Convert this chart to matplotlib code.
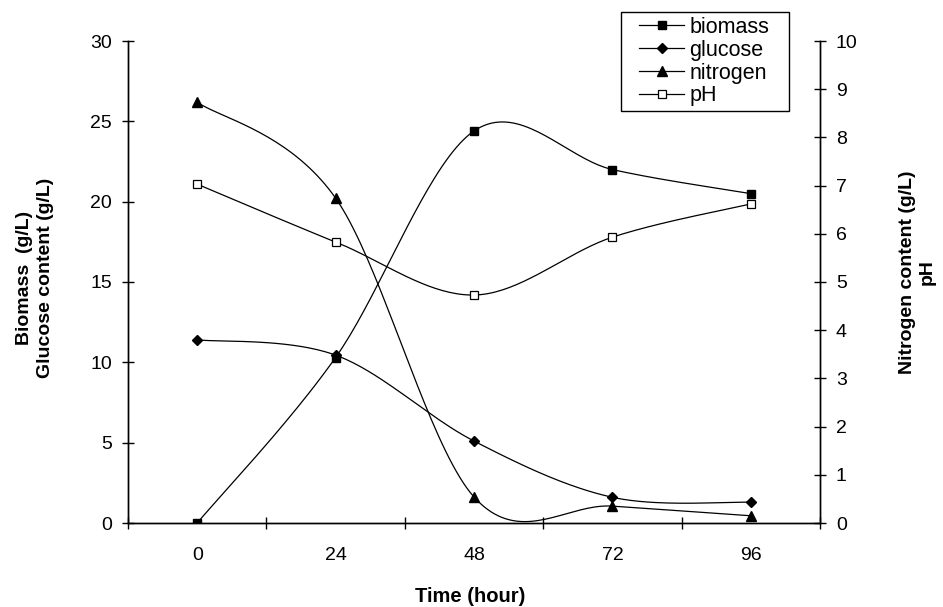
import numpy as np
import matplotlib.pyplot as plt
from matplotlib.lines import Line2D
from matplotlib.patches import Rectangle

plt.rcParams['font.family'] = ['Liberation Sans', 'DejaVu Sans']

hours = [0, 24, 48, 72, 96]
biomass = [0.0, 10.3, 24.4, 22.0, 20.5]
glucose = [11.4, 10.45, 5.1, 1.6, 1.3]
nitrogen = [8.73, 6.74, 0.54, 0.35, 0.15]
ph = [7.03, 5.83, 4.73, 5.93, 6.62]


def smooth(x, y, n=40):
    # excel-like smoothed line: bezier pieces with catmull-rom control points
    x = np.asarray(x, float)
    y = np.asarray(y, float)
    px = np.concatenate([[x[0]], x, [x[-1]]])
    py = np.concatenate([[y[0]], y, [y[-1]]])
    t = np.linspace(0, 1, n)[:, None]
    xs, ys = [], []
    for i in range(1, len(px) - 2):
        p0 = np.array([px[i], py[i]])
        p3 = np.array([px[i + 1], py[i + 1]])
        c1 = p0 + (p3 - np.array([px[i - 1], py[i - 1]])) / 6
        c2 = p3 - (np.array([px[i + 2], py[i + 2]]) - p0) / 6
        b = (1 - t) ** 3 * p0 + 3 * (1 - t) ** 2 * t * c1 + 3 * (1 - t) * t ** 2 * c2 + t ** 3 * p3
        xs.extend(b[:, 0])
        ys.extend(b[:, 1])
    return xs, ys


W, H = 943, 607
fig = plt.figure(figsize=(W / 100, H / 100), dpi=100)
ax = fig.add_axes([128 / W, 1 - 523 / H, (820 - 128) / W, (523 - 41) / H])
ax2 = ax.twinx()

lw = 0.9
ax.plot(*smooth(hours, biomass), color='black', lw=lw)
ax.plot(hours, biomass, 's', color='black', ms=6, ls='none')
ax.plot(*smooth(hours, glucose), color='black', lw=lw)
ax.plot(hours, glucose, 'D', color='black', ms=5.5, ls='none')
ax2.plot(*smooth(hours, nitrogen), color='black', lw=lw)
ax2.plot(hours, nitrogen, '^', color='black', ms=7, ls='none')
ax2.plot(*smooth(hours, ph), color='black', lw=lw)
ax2.plot(hours, ph, 's', mfc='white', mec='black', mew=0.9, ms=6, ls='none')

for a in (ax, ax2):
    a.set_xlim(-12, 108)
    a.spines['top'].set_visible(False)
    for s in a.spines.values():
        s.set_linewidth(1.0)
ax.set_ylim(0, 30)
ax2.set_ylim(0, 10)
ax.set_yticks(range(0, 31, 5))
ax2.set_yticks(range(0, 11))
ax.set_xticks(hours)
ax.set_xticks(range(-12, 109, 24), minor=True)
ax.tick_params(axis='x', which='major', length=0, pad=17, labelsize=14)
ax.tick_params(axis='x', which='minor', direction='inout', length=9, width=1)
ax.tick_params(axis='y', direction='inout', length=9, width=1, pad=7, labelsize=14)
ax2.tick_params(axis='y', direction='inout', length=9, width=1, pad=7, labelsize=14)

ax.set_xlabel('Time (hour)', fontsize=14.5, fontweight='bold')
ax.xaxis.set_label_coords((470 - 128) / 692, (523 - 597) / 482)
ax.xaxis.label.set_va('center')
ax.set_ylabel('Biomass  (g/L)\nGlucose content (g/L)', fontsize=14, fontweight='bold',
              linespacing=1.25)
ax.yaxis.set_label_coords((35 - 128) / 692, 0.508)
ax.yaxis.label.set_va('center')
ax2.set_ylabel('Nitrogen content (g/L)\npH', fontsize=14, fontweight='bold',
               rotation=90, linespacing=1.2)
ax2.yaxis.set_label_coords((917 - 128) / 692, 0.52)
ax2.yaxis.label.set_va('center')

handles = [
    Line2D([], [], color='black', lw=lw, marker='s', ms=6),
    Line2D([], [], color='black', lw=lw, marker='D', ms=5.5),
    Line2D([], [], color='black', lw=lw, marker='^', ms=7),
    Line2D([], [], color='black', lw=lw, marker='s', ms=6, mfc='white', mew=0.9),
]
fig.legend(handles, ['biomass', 'glucose', 'nitrogen', 'pH'],
           loc='upper left', bbox_to_anchor=(639 / W, 1 - 17 / H),
           fontsize=15.5, frameon=False, handlelength=2.1, handletextpad=0.25,
           labelspacing=0.085, borderpad=0, borderaxespad=0)
fig.add_artist(Rectangle((621 / W, 1 - 111 / H), 168 / W, 99 / H, fill=False,
                         ec='black', lw=1.0, transform=fig.transFigure))

fig.savefig('out.png', dpi=100)
